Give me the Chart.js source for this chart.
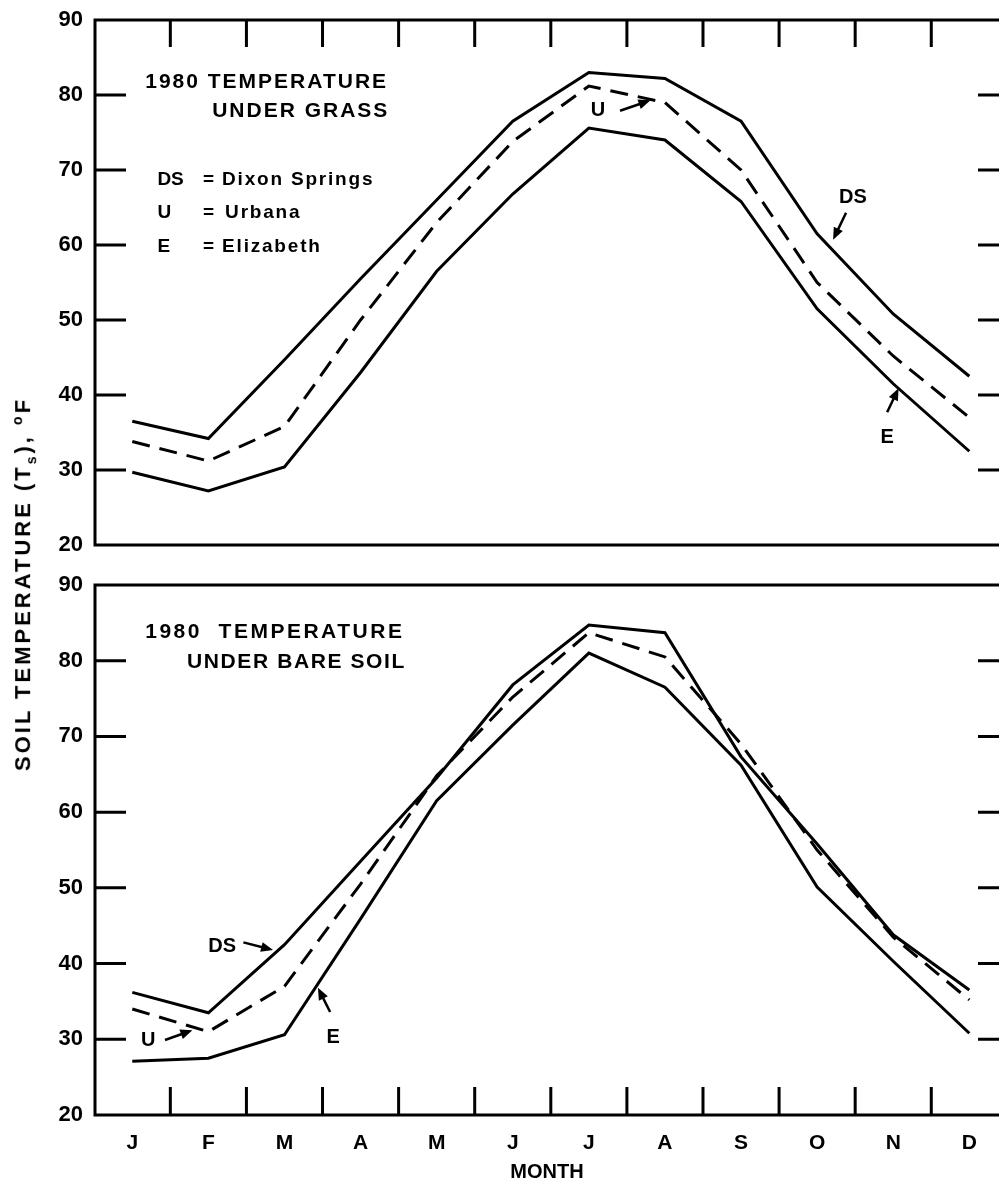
<!DOCTYPE html>
<html>
<head>
<meta charset="utf-8">
<script src="https://cdn.jsdelivr.net/npm/chart.js@4/dist/chart.umd.min.js"></script>
<style>
body { margin: 0; background: #fff; width: 999px; height: 1188px; overflow: hidden; position: relative; font-family: "Liberation Sans", Arial, sans-serif; }
canvas { position: absolute; left: 0; }
#topChart { top: 0; }
#botChart { top: 560px; }
#ytitle { position: absolute; left: 24px; top: 584px; transform: translate(-50%, -50%) rotate(-90deg); white-space: nowrap; font-weight: bold; font-size: 22px; letter-spacing: 3px; color: #000; }
#ytitle sub { font-size: 14px; }
#ytitle sup { font-size: 14px; }
</style>
</head>
<body>
<canvas id="topChart" width="999" height="560"></canvas>
<canvas id="botChart" width="999" height="628"></canvas>
<div id="ytitle">SOIL TEMPERATURE (T<sub>s</sub>), <sup>o</sup>F</div>
<script>
const months = ['J', 'F', 'M', 'A', 'M', 'J', 'J', 'A', 'S', 'O', 'N', 'D'];

// under grass
const grassDS = [36.5, 34.2, 44.7, 55.5, 66.0, 76.5, 83.0, 82.2, 76.5, 61.5, 50.8, 42.5];
const grassU  = [33.8, 31.2, 35.8, 50.0, 63.0, 73.8, 81.2, 79.0, 70.0, 55.0, 45.2, 37.0];
const grassE  = [29.7, 27.2, 30.4, 43.0, 56.5, 66.8, 75.6, 74.0, 65.8, 51.5, 41.5, 32.5];

// under bare soil
const bareDS = [36.2, 33.5, 42.5, 53.5, 64.5, 76.8, 84.7, 83.7, 67.3, 55.8, 43.8, 36.5];
const bareU  = [34.0, 31.0, 37.0, 50.5, 64.8, 75.2, 83.7, 80.5, 69.0, 55.0, 43.5, 35.2];
const bareE  = [27.1, 27.5, 30.6, 45.9, 61.5, 71.5, 81.0, 76.5, 66.2, 50.1, 40.3, 30.8];

const innerYTicks = [30, 40, 50, 60, 70, 80];
const monthDividers = [0.5, 1.5, 2.5, 3.5, 4.5, 5.5, 6.5, 7.5, 8.5, 9.5, 10.5];

function pts(arr) {
    return arr.map((v, i) => ({ x: i, y: v }));
}

function lineSet(label, arr, dashed) {
    return {
        label: label,
        data: pts(arr),
        borderColor: '#000',
        borderWidth: 3,
        borderDash: dashed ? [18, 10] : [],
        pointRadius: 0,
        tension: 0,
        fill: false
    };
}

// frame, inward ticks and in-plot notes
const framePlugin = {
    id: 'frame',
    afterDraw(chart, args, opts) {
        const ctx = chart.ctx;
        const a = chart.chartArea;
        const x = chart.scales.x;
        const y = chart.scales.y;
        ctx.save();
        ctx.strokeStyle = '#000';
        ctx.lineWidth = 3;
        ctx.beginPath();
        ctx.moveTo(a.right + 5, a.top);
        ctx.lineTo(a.left, a.top);
        ctx.lineTo(a.left, a.bottom);
        ctx.lineTo(a.right + 5, a.bottom);
        ctx.stroke();

        ctx.beginPath();
        innerYTicks.forEach(v => {
            const py = y.getPixelForValue(v);
            ctx.moveTo(a.left, py);
            ctx.lineTo(a.left + 31, py);
            ctx.moveTo(a.right - 21, py);
            ctx.lineTo(a.right, py);
        });
        monthDividers.forEach(v => {
            const px = x.getPixelForValue(v);
            if (opts.tickSide == 'top') {
                ctx.moveTo(px, a.top);
                ctx.lineTo(px, a.top + 27);
            } else {
                ctx.moveTo(px, a.bottom);
                ctx.lineTo(px, a.bottom - 28);
            }
        });
        ctx.stroke();

        ctx.fillStyle = '#000';
        ctx.textBaseline = 'middle';
        (opts.notes || []).forEach(n => {
            ctx.font = n.font;
            ctx.letterSpacing = (n.ls || 0) + 'px';
            ctx.textAlign = n.align || 'left';
            ctx.fillText(n.t, x.getPixelForValue(n.x), y.getPixelForValue(n.y));
        });
        ctx.letterSpacing = '0px';

        ctx.lineWidth = 2.5;
        (opts.arrows || []).forEach(r => {
            const x1 = x.getPixelForValue(r[0]), y1 = y.getPixelForValue(r[1]);
            const x2 = x.getPixelForValue(r[2]), y2 = y.getPixelForValue(r[3]);
            const ang = Math.atan2(y2 - y1, x2 - x1);
            ctx.beginPath();
            ctx.moveTo(x1, y1);
            ctx.lineTo(x2 - 6 * Math.cos(ang), y2 - 6 * Math.sin(ang));
            ctx.stroke();
            ctx.beginPath();
            ctx.moveTo(x2, y2);
            ctx.lineTo(x2 - 12 * Math.cos(ang) + 5 * Math.sin(ang), y2 - 12 * Math.sin(ang) - 5 * Math.cos(ang));
            ctx.lineTo(x2 - 12 * Math.cos(ang) - 5 * Math.sin(ang), y2 - 12 * Math.sin(ang) + 5 * Math.cos(ang));
            ctx.closePath();
            ctx.fill();
        });
        ctx.restore();
    }
};

const bigFont = 'bold 21px "Liberation Sans", Arial, sans-serif';
const keyFont = 'bold 19px "Liberation Sans", Arial, sans-serif';
const tagFont = 'bold 20px "Liberation Sans", Arial, sans-serif';

function yScale() {
    return {
        min: 20,
        max: 90,
        afterFit: s => { s.width = 95; s.paddingTop = 0; s.paddingBottom = 0; },
        grid: { display: false, drawTicks: false },
        border: { display: false },
        ticks: {
            stepSize: 10,
            padding: 12,
            color: '#000',
            font: { family: '"Liberation Sans", Arial, sans-serif', size: 22, weight: 'bold' }
        }
    };
}

function xScale(show) {
    return {
        type: 'linear',
        min: -0.49,
        max: 11.39,
        display: show,
        afterBuildTicks: s => { s.ticks = months.map((m, i) => ({ value: i })); },
        afterFit: s => { if (show) s.height = 73; s.paddingLeft = 0; s.paddingRight = 0; },
        grid: { display: false, drawTicks: false },
        border: { display: false },
        ticks: {
            autoSkip: false,
            maxRotation: 0,
            padding: 16,
            color: '#000',
            font: { family: '"Liberation Sans", Arial, sans-serif', size: 21, weight: 'bold' },
            callback: v => months[v]
        },
        title: {
            display: show,
            text: 'MONTH',
            color: '#000',
            padding: { top: 5, bottom: 4 },
            font: { family: '"Liberation Sans", Arial, sans-serif', size: 20, weight: 'bold' }
        }
    };
}

Chart.defaults.animation = false;

new Chart(document.getElementById('topChart'), {
    type: 'line',
    data: {
        datasets: [lineSet('DS', grassDS, false), lineSet('U', grassU, true), lineSet('E', grassE, false)]
    },
    options: {
        responsive: false,
        layout: { padding: { left: 0, right: 0, top: 20, bottom: 15 } },
        scales: { x: xScale(false), y: yScale() },
        plugins: {
            legend: { display: false },
            tooltip: { enabled: false },
            frame: {
                tickSide: 'top',
                notes: [
                    { t: '1980 TEMPERATURE', x: 0.17, y: 81.7, font: bigFont, ls: 2 },
                    { t: 'UNDER GRASS', x: 1.05, y: 77.9, font: bigFont, ls: 2 },
                    { t: 'DS', x: 0.33, y: 68.7, font: keyFont },
                    { t: '=', x: 0.93, y: 68.7, font: keyFont },
                    { t: 'Dixon Springs', x: 1.18, y: 68.7, font: keyFont, ls: 1.8 },
                    { t: 'U', x: 0.33, y: 64.3, font: keyFont },
                    { t: '=', x: 0.93, y: 64.3, font: keyFont },
                    { t: 'Urbana', x: 1.22, y: 64.3, font: keyFont, ls: 1.8 },
                    { t: 'E', x: 0.33, y: 59.7, font: keyFont },
                    { t: '=', x: 0.93, y: 59.7, font: keyFont },
                    { t: 'Elizabeth', x: 1.18, y: 59.7, font: keyFont, ls: 1.8 },
                    { t: 'U', x: 6.12, y: 78.0, font: tagFont, align: 'center' },
                    { t: 'DS', x: 9.47, y: 66.4, font: tagFont, align: 'center' },
                    { t: 'E', x: 9.92, y: 34.4, font: tagFont, align: 'center' }
                ],
                arrows: [
                    [6.41, 77.9, 6.81, 79.3],
                    [9.38, 64.3, 9.21, 60.7],
                    [9.92, 37.7, 10.07, 40.9]
                ]
            }
        }
    },
    plugins: [framePlugin]
});

new Chart(document.getElementById('botChart'), {
    type: 'line',
    data: {
        datasets: [lineSet('DS', bareDS, false), lineSet('U', bareU, true), lineSet('E', bareE, false)]
    },
    options: {
        responsive: false,
        layout: { padding: { left: 0, right: 0, top: 25, bottom: 0 } },
        scales: { x: xScale(true), y: yScale() },
        plugins: {
            legend: { display: false },
            tooltip: { enabled: false },
            frame: {
                tickSide: 'bottom',
                notes: [
                    { t: '1980  TEMPERATURE', x: 0.17, y: 83.8, font: bigFont, ls: 2.5 },
                    { t: 'UNDER BARE SOIL', x: 0.72, y: 79.8, font: bigFont, ls: 1.6 },
                    { t: 'DS', x: 1.18, y: 42.2, font: tagFont, align: 'center' },
                    { t: 'U', x: 0.21, y: 29.8, font: tagFont, align: 'center' },
                    { t: 'E', x: 2.64, y: 30.3, font: tagFont, align: 'center' }
                ],
                arrows: [
                    [1.46, 42.8, 1.85, 41.8],
                    [0.43, 29.9, 0.79, 31.2],
                    [2.60, 33.6, 2.44, 36.8]
                ]
            }
        }
    },
    plugins: [framePlugin]
});
</script>
</body>
</html>
